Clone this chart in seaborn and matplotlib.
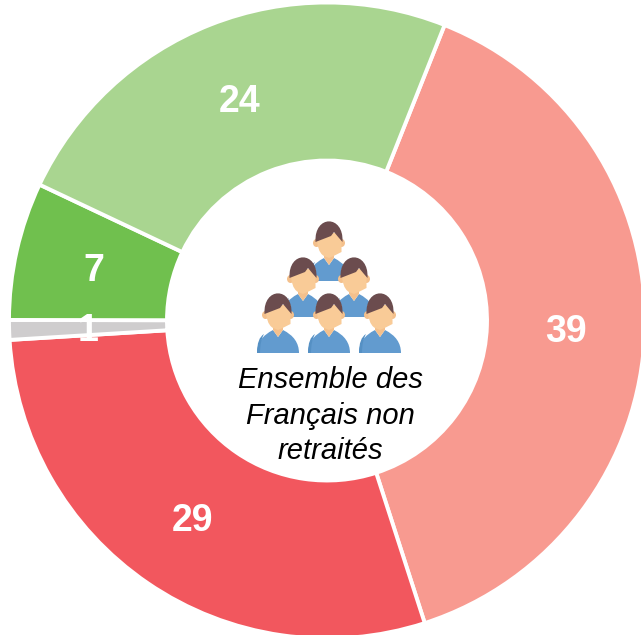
import matplotlib
matplotlib.use("Agg")
import matplotlib.pyplot as plt
import seaborn as sns
from matplotlib.path import Path
from matplotlib.patches import PathPatch, Ellipse

values = [39, 29, 1, 7, 24]
colors = ["#F89A90", "#F2575E", "#CFCDCE", "#70C04E", "#A9D590"]
center_lines = ["Ensemble des", "Français non", "retraités"]

W, H = 641, 635
sns.set_theme(style="white")
plt.rcParams["font.family"] = ["Liberation Sans", "DejaVu Sans"]

fig = plt.figure(figsize=(W / 100, H / 100), dpi=100)
ax = fig.add_axes([0, 0, 1, 1])

CX, CY, R, RI = 327, 320.5, 318, 160


def py(y):
    return H - y


wedges, _, autos = ax.pie(
    values,
    colors=sns.color_palette(colors),
    center=(CX, py(CY)),
    radius=R,
    startangle=68.3,
    counterclock=False,
    autopct=lambda p: f"{p:.0f}",
    pctdistance=(R + RI) / 2 / R,
    wedgeprops=dict(width=R - RI, edgecolor="white", linewidth=2.8),
    textprops=dict(color="white", fontsize=27, fontweight="bold"),
)
for t in autos:
    t.set_va("center")
    t.set_ha("center")
    t.set_zorder(5)
    x, y = t.get_position()
    t.set_position((x, y - 3.5))

ax.set_xlim(0, W)
ax.set_ylim(0, H)
ax.set_aspect("equal")
ax.axis("off")

for y, line in zip([380, 416, 451], center_lines):
    ax.text(330.5, py(y), line, ha="center", va="center", fontsize=21,
            fontstyle="italic", color="black", zorder=6)

BLUE, DARK, SKIN, SKIN2, HAIR = "#629BCF", "#5590C4", "#F9CB97", "#F4C08C", "#6B4C4E"


def shape(cx, cy, pts, codes, color, z):
    verts = [(cx + a, py(cy + b)) for a, b in pts]
    ax.add_patch(PathPatch(Path(verts, codes), fc=color, ec="none", zorder=z))


M, L, C, B, Z = Path.MOVETO, Path.LINETO, Path.CURVE3, Path.CURVE4, Path.CLOSEPOLY


def person(cx, cy, z):
    shape(cx, cy, [(-21, 38), (-21, 23), (-5, 15), (0, 22), (5, 15), (21, 23), (21, 38), (-21, 38)],
          [M, C, L, L, L, C, L, Z], BLUE, z)
    shape(cx, cy, [(-21, 38), (-21, 23), (-14, 19), (-18, 26), (-18, 38), (-21, 38)],
          [M, C, L, C, L, Z], DARK, z)
    for s in (-1, 1):
        ax.add_patch(Ellipse((cx + s * 12.5, py(cy)), 7, 8, fc=SKIN2, ec="none", zorder=z))
    shape(cx, cy, [(-5, 8), (-5, 15), (0, 22), (5, 15), (5, 8), (-5, 8)],
          [M, L, L, L, L, Z], SKIN2, z)
    shape(cx, cy, [(-12.5, -10), (-12.5, 9), (-5, 13), (0, 15), (5, 13), (12.5, 9), (12.5, -10), (-12.5, -10)],
          [M, C, L, L, C, L, L, Z], SKIN, z)
    shape(cx, cy, [(-13.5, -1), (-15, -28.5), (15, -28.5), (13.5, -1), (10, -5), (5, -11), (2, -7), (-13.5, -1)],
          [M, B, B, B, L, L, L, L], HAIR, z)


for i, (cx, cy) in enumerate([(329, 243), (303, 279), (354, 279), (278, 315), (329, 315), (380, 315)]):
    person(cx, cy, 7 + i)

fig.savefig("out.png", dpi=100)
